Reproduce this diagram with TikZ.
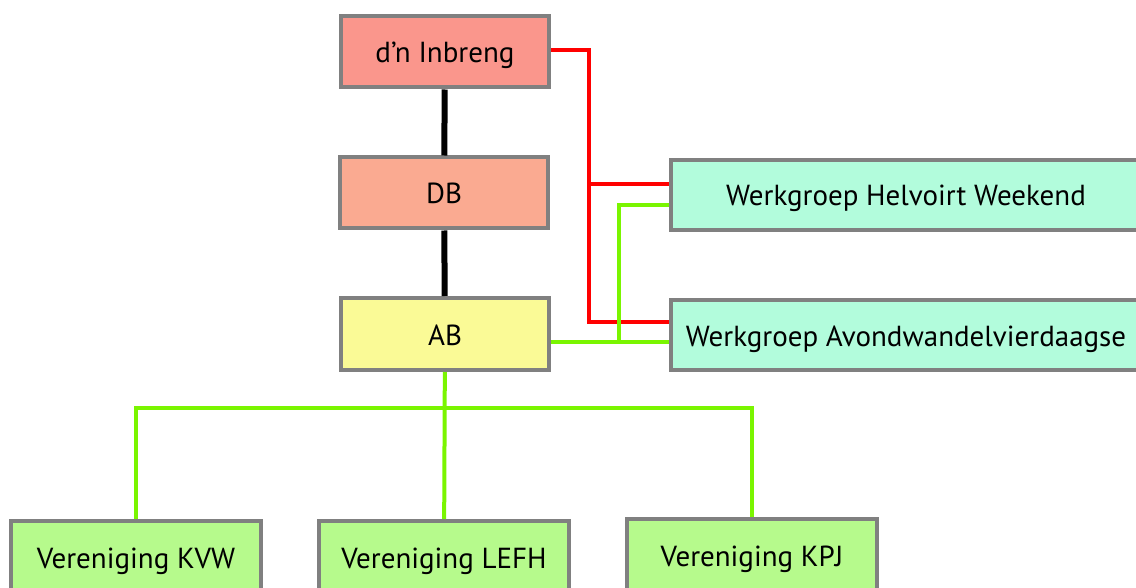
\documentclass[tikz,border=0pt]{standalone}
\usepackage{fontspec}
\setmainfont{PT Sans}
\usepackage{tikz}
\usetikzlibrary{positioning,calc}
\definecolor{boxgray}{RGB}{128,128,128}
\definecolor{inbrengfill}{RGB}{250,150,140}
\definecolor{dbfill}{RGB}{250,170,145}
\definecolor{abfill}{RGB}{250,250,150}
\definecolor{wgfill}{RGB}{178,252,220}
\definecolor{verfill}{RGB}{182,250,140}
\definecolor{linered}{RGB}{255,0,0}
\definecolor{linegreen}{RGB}{122,245,0}
\tikzstyle{box} = [draw=boxgray,line width=4pt,minimum width=208pt,minimum height=71pt,font=\fontsize{29}{33}\selectfont,inner sep=0pt,text height=22pt,text depth=0pt]
\tikzstyle{redline} = [linered,line width=4pt]
\tikzstyle{greenline} = [linegreen,line width=4pt]
\tikzstyle{blackline} = [black,line width=6pt]

\begin{document}
\begin{tikzpicture}[x=1pt,y=-1pt]
    \clip (0,0) rectangle (1136,588);
    \node[box,fill=inbrengfill](b_in) at (445,52){d’n Inbreng};
    \node[box,fill=dbfill](b_db) at (444,193){DB};
    \node[box,fill=abfill,minimum height=72pt](b_ab) at (445,334){AB};
    \node[box,fill=wgfill,minimum width=480pt,minimum height=70pt](w_hw) at (911,195){\hspace*{-10pt}Werkgroep Helvoirt Weekend};
    \node[box,fill=wgfill,minimum width=480pt,minimum height=70pt](w_av) at (911,335){\hspace*{-10pt}Werkgroep Avondwandelvierdaagse};
    \node[box,fill=verfill,minimum width=250pt,minimum height=72pt](v_kvw) at (136,557){Vereniging KVW};
    \node[box,fill=verfill,minimum width=250pt,minimum height=72pt](v_lefh) at (444,557){Vereniging LEFH};
    \node[box,fill=verfill,minimum width=250pt,minimum height=72pt](v_kpj) at (752,555){Vereniging KPJ};
    % entry points on the werkgroep boxes
    \coordinate (hw_r) at ([yshift=11pt]w_hw.west);
    \coordinate (hw_g) at ([yshift=-10pt]w_hw.west);
    \coordinate (av_r) at ([yshift=13pt]w_av.west);
    \coordinate (av_g) at ([yshift=-7pt]w_av.west);
    \coordinate (bus) at (445,408);
    \draw[blackline] (b_in) -- (b_db);
    \draw[blackline] (b_db) -- (b_ab);
    \draw[redline] ([yshift=2pt]b_in.east) -- ++(38,0) coordinate (r_top) |- (av_r);
    \draw[redline] (r_top |- hw_r) -- (hw_r);
    \draw[greenline] (b_ab.east |- av_g) -- (av_g);
    \draw[greenline] ([xshift=-50pt]av_g) |- (hw_g);
    \draw[greenline] (b_ab) -- (v_lefh);
    \draw[greenline] (v_kvw.north) -- (v_kvw.north |- bus) -- (v_kpj.north |- bus) -- (v_kpj.north);
\end{tikzpicture}
\end{document}
